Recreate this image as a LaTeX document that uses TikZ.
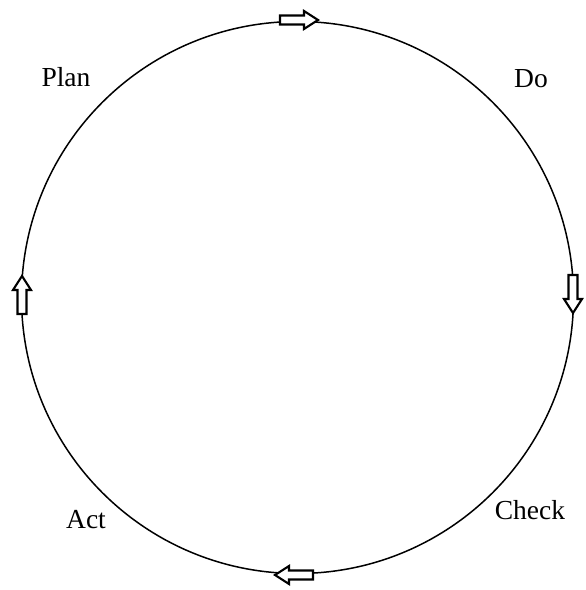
\documentclass[tikz,border=0pt]{standalone}
\usepackage{fontspec}
\setmainfont{Liberation Serif}
\begin{document}
\begin{tikzpicture}[x=1pt,y=1pt,
  lbl/.style={anchor=base,font=\fontsize{27.5}{30}\selectfont,inner sep=0pt},
  blockarrow/.pic={\draw[line width=2.1pt,fill=white,line join=miter]
     (-19,-4.5) -- (5,-4.5) -- (5,-9) -- (19,0) -- (5,9) -- (5,4.5) -- (-19,4.5) -- cycle;}]
\useasboundingbox (0,0) rectangle (586,590);
\coordinate (c) at (297.5,292.5);
\draw[line width=1.5pt] (c) circle (276);
\pic[rotate=0] at (299,570) {blockarrow};
\pic[rotate=-90] at (573,296) {blockarrow};
\pic[rotate=180] at (294,15) {blockarrow};
\pic[rotate=90] at (22,295) {blockarrow};
\node[lbl] (plan) at (66,503) {Plan};
\node[lbl] (do) at (531,502) {Do};
\node[lbl] (act) at (86,61) {Act};
\node[lbl] (check) at (530,70) {Check};
\end{tikzpicture}
\end{document}
